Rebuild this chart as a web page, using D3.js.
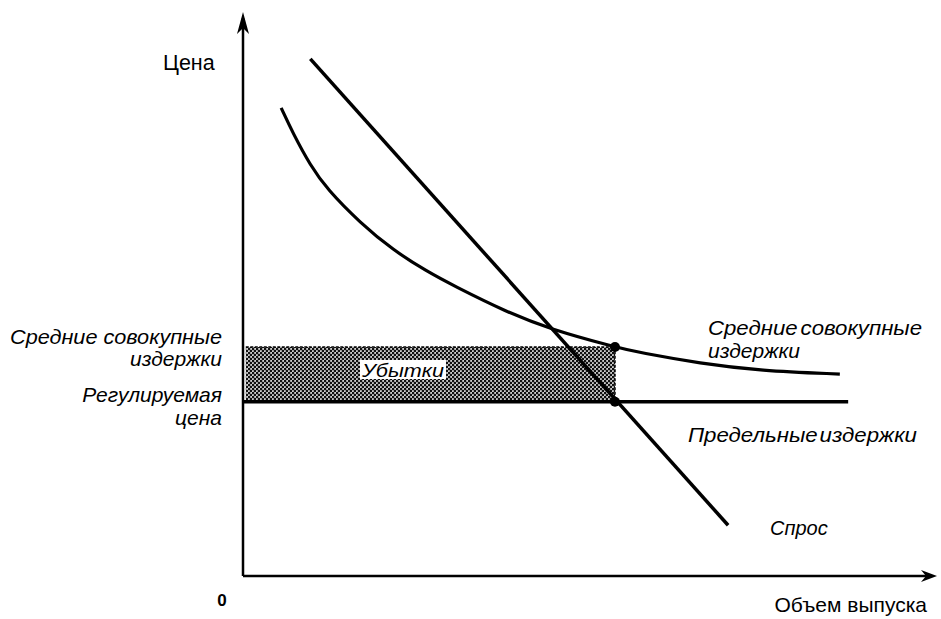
<!DOCTYPE html>
<html><head><meta charset="utf-8">
<script src="https://cdn.jsdelivr.net/npm/d3@7"></script>
<style>html,body{margin:0;padding:0;background:#fff;}svg{display:block;}</style>
</head><body>
<svg id="c" width="941" height="619"></svg>
<script>
// Data (abstract units, 0..100 on both axes)
const atcQ = [5.5, 7.2, 9.7, 12.1, 16.9, 21.6, 26.5, 30.3, 38.0, 44.2, 53.6, 57.2, 65.9, 74.5, 86.0];
const atcP = [83.0, 78.5, 72.8, 68.6, 62.6, 57.8, 54.0, 51.5, 46.8, 43.8, 40.6, 39.6, 37.7, 36.4, 35.8];
const demandQ = [9.7, 69.9];
const demandP = [91.7, 9.0];
const regPrice = 30.9;
const mcQ = [0, 87.2];
const qStar = 53.6;
const atcAtQ = 40.6;

const svg = d3.select('#c');
const x = d3.scaleLinear().domain([0,100]).range([243,937]);
const y = d3.scaleLinear().domain([0,100]).range([576,12]);

// pattern
const defs = svg.append('defs');
const pat = defs.append('pattern').attr('id','dots').attr('patternUnits','userSpaceOnUse')
  .attr('width',4).attr('height',4);
pat.append('rect').attr('width',4).attr('height',4).attr('fill','#cfcfcf');
pat.append('circle').attr('cx',1).attr('cy',1).attr('r',1.35).attr('fill','#111');
pat.append('circle').attr('cx',3).attr('cy',3).attr('r',1.35).attr('fill','#111');

// loss rectangle
svg.append('rect')
  .attr('x', x(0.4)).attr('y', y(atcAtQ))
  .attr('width', x(qStar)-x(0.4)).attr('height', y(regPrice)-y(atcAtQ))
  .attr('fill','url(#dots)');
svg.append('path')
  .attr('d', `M${x(0.4)},${y(atcAtQ)}H${x(qStar)}V${y(regPrice)}`)
  .attr('fill','none').attr('stroke','#000').attr('stroke-width',1.5).attr('stroke-dasharray','3,1.5');

// axes
svg.append('line').attr('x1',x(0)).attr('y1',y(0)).attr('x2',x(0)).attr('y2',y(100)+6)
  .attr('stroke','#000').attr('stroke-width',2.5);
svg.append('line').attr('x1',x(0)).attr('y1',y(0)).attr('x2',x(100)-6).attr('y2',y(0))
  .attr('stroke','#000').attr('stroke-width',2.5);
svg.append('path').attr('d',`M${x(0)},${y(100)} L${x(0)-6},${y(100)+22} L${x(0)},${y(100)+16} L${x(0)+6},${y(100)+22}Z`).attr('fill','#000');
svg.append('path').attr('d',`M${x(100)},${y(0)} L${x(100)-16},${y(0)-6} L${x(100)-11},${y(0)} L${x(100)-16},${y(0)+6}Z`).attr('fill','#000');

// MC / regulated price line
svg.append('line').attr('x1',x(mcQ[0])).attr('x2',x(mcQ[1])).attr('y1',y(regPrice)).attr('y2',y(regPrice))
  .attr('stroke','#000').attr('stroke-width',3.5);

// ATC curve
const atc = atcQ.map((q,i)=>[q, atcP[i]]);
svg.append('path').datum(atc)
  .attr('d', d3.line().x(d=>x(d[0])).y(d=>y(d[1])).curve(d3.curveBasis))
  .attr('fill','none').attr('stroke','#000').attr('stroke-width',3.2);

// Demand
const dem = demandQ.map((q,i)=>[q, demandP[i]]);
svg.append('path').datum(dem)
  .attr('d', d3.line().x(d=>x(d[0])).y(d=>y(d[1])))
  .attr('fill','none').attr('stroke','#000').attr('stroke-width',3.5);

// dots
[[qStar, atcAtQ],[qStar, regPrice]].forEach(d=>{
  svg.append('circle').attr('cx',x(d[0])).attr('cy',y(d[1])).attr('r',5).attr('fill','#000');
});

// texts
function txt(s, tx, ty, opts){
  opts = opts||{};
  const t = svg.append('text').attr('x',tx).attr('y',ty).text(s)
    .attr('font-family','"Liberation Sans", Arial, sans-serif')
    .attr('font-size', opts.size||21)
    .attr('font-style', opts.italic===false?'normal':'italic')
    .attr('font-weight', opts.bold?'bold':'normal')
    .attr('text-anchor', opts.anchor||'start')
    .attr('fill','#000');
  if (opts.len) t.attr('textLength', opts.len).attr('lengthAdjust','spacingAndGlyphs');
  if (opts.ws) t.attr('word-spacing', opts.ws);
  return t;
}
// Убытки with white background
svg.append('rect').attr('x',360).attr('y',360).attr('width',86).attr('height',19).attr('fill','#fff');
txt('Убытки', 362, 377, {size:19, len:82});

txt('Цена', 163, 70, {italic:false, size:21.5});
txt('Средние  совокупные', 222, 344, {anchor:'end', len:212});
txt('издержки', 222, 366, {anchor:'end'});
txt('Регулируемая', 222, 402, {anchor:'end'});
txt('цена', 222, 425, {anchor:'end'});

txt('Средние совокупные', 708, 335, {ws:-3, len:214});
txt('издержки', 708, 358);
txt('Предельные издержки', 688, 442, {ws:-4, len:229});
txt('Спрос', 770, 535, {size:20});

txt('Объем выпуска', 927, 612, {italic:false, size:21, anchor:'end'});
txt('0', 222, 606, {italic:false, bold:true, size:17, anchor:'middle'});
</script>
</body></html>
